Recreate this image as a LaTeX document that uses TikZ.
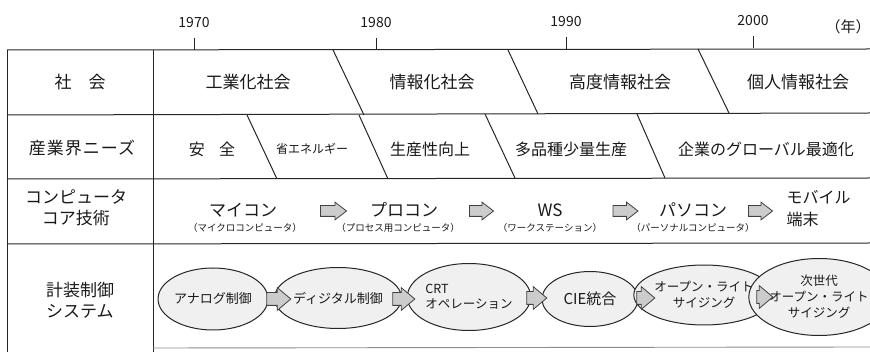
\documentclass[tikz,border=0pt]{standalone}
\usepackage{fontspec}
\setmainfont{Noto Sans CJK JP}
\usetikzlibrary{shapes.geometric,shapes.arrows}
\begin{document}
\begin{tikzpicture}[x=1pt,y=-1pt,
  rule/.style={draw=black!85, line width=1pt},
  yr/.style={font=\fontsize{14}{16}\selectfont, text=black!90},
  lbl/.style={font=\fontsize{17}{21}\selectfont, align=center, text=black!90},
  big/.style={font=\fontsize{17}{21}\selectfont, text=black!90},
  mid/.style={font=\fontsize{16}{19}\selectfont, text=black!90},
  sml/.style={font=\fontsize{12}{14}\selectfont, text=black!90},
  tech/.style={font=\fontsize{17}{19}\selectfont, text=black!90},
  sub/.style={font=\fontsize{9.5}{11}\selectfont, text=black!90},
  ell/.style={ellipse, draw=black!85, fill=gray!12, line width=1pt, inner sep=0pt,
    align=center, text=black!90, font=\fontsize{13}{15}\selectfont},
  blk/.style={single arrow, draw=black!75, fill=gray!40, line width=0.8pt,
    inner xsep=0pt, inner ysep=6pt, single arrow head extend=5pt,
    single arrow tip angle=80, minimum height=#1},
  blks/.style={single arrow, draw=black!75, fill=gray!40, line width=0.8pt,
    inner xsep=0pt, inner ysep=5pt, single arrow head extend=3.5pt,
    single arrow tip angle=75, minimum height=#1}
]
\useasboundingbox (0,0) rectangle (870,352);

% years
\node[yr] (y70) at (194,23) {1970};
\node[yr] (y80) at (376,23) {1980};
\node[yr] (y90) at (566,22) {1990};
\node[yr] (y00) at (753,21) {2000};
\node[yr, font=\fontsize{15}{17}\selectfont] (nen) at (848,27) {（年）};
\draw[rule] (194,38) -- (194,50);
\draw[rule] (376,38) -- (376,50);
\draw[rule] (566,37) -- (566,50);
\draw[rule] (753,36) -- (753,48);

% table lines
\draw[rule] (7,50) -- (870,49);
\draw[rule] (7,115) -- (870,113);
\draw[rule] (7,179) -- (870,178);
\draw[rule] (7,244) -- (870,243);
\draw[rule] (7,50) -- (7,352);
\draw[rule] (153,50) -- (153,352);
\draw[draw=black!45, line width=0.9pt] (153,348) -- (870,347);

% row 1 diagonals
\draw[rule] (333,50) -- (364,115);
\draw[rule] (508,50) -- (538,114);
\draw[rule] (698,49) -- (729,113);
% row 2 diagonals
\draw[rule] (247,115) -- (277,179);
\draw[rule] (359,115) -- (388,179);
\draw[rule] (485,114) -- (515,178);
\draw[rule] (637,114) -- (665,178);

% row labels
\node[lbl] (l1) at (80,82) {社\hspace{1em}会};
\node[lbl, font=\fontsize{17}{21}\selectfont\addfontfeatures{LetterSpace=6}] (l2) at (82,148) {産業界ニーズ};
\node[lbl] (l3) at (76,208) {コンピュータ\\コア技術};
\node[lbl, align=left] (l4) at (80,300) {計装制御\\システム};

% row 1
\node[big] (s1) at (248,82) {工業化社会};
\node[big] (s2) at (432,82) {情報化社会};
\node[big] (s3) at (620,82) {高度情報社会};
\node[big] (s4) at (798,82) {個人情報社会};

% row 2
\node[mid] (n1) at (212,149) {安\hspace{0.9em}全};
\node[sml] (n2) at (312,149) {省エネルギー};
\node[mid] (n3) at (430,149) {生産性向上};
\node[mid] (n4) at (571,149) {多品種少量生産};
\node[mid] (n5) at (766,149) {企業のグローバル最適化};

% row 3
\node[tech] (c1) at (243,210) {マイコン};
\node[sub] (c1s) at (245,228) {（マイクロコンピュータ）};
\node[tech] (c2) at (404,210) {プロコン};
\node[sub] (c2s) at (398,228) {（プロセス用コンピュータ）};
\node[tech] (c3) at (550,210) {WS};
\node[sub] (c3s) at (550,228) {（ワークステーション）};
\node[tech] (c4) at (693,210) {パソコン};
\node[sub] (c4s) at (693,228) {（パーソナルコンピュータ）};
\node[tech, anchor=west, align=left, font=\fontsize{16}{22}\selectfont] (c5) at (783,209) {モバイル\\端末};
\node[blks=26pt] (ca1) at (330,211) {};
\node[blks=24pt] (ca2) at (478,211) {};
\node[blks=25pt] (ca3) at (622,211) {};
\node[blks=24pt] (ca4) at (757,211) {};

% row 4
\node[ell, minimum width=103pt, minimum height=62pt] (e1) at (213,299) {アナログ制御};
\node[ell, minimum width=107pt, minimum height=61pt] (e2) at (338,298) {ディジタル制御};
\node[ell, minimum width=115pt, minimum height=67pt, align=left, font=\fontsize{12.5}{15}\selectfont] (e3) at (469,297) {CRT\\オペレーション};
\node[ell, minimum width=96pt, minimum height=55pt, font=\fontsize{15}{17}\selectfont] (e4) at (590,299) {CIE統合};
\node[ell, minimum width=108pt, minimum height=60pt, font=\fontsize{12.5}{16}\selectfont] (e5) at (704,295) {オープン・ライト\\サイジング};
\node[ell, minimum width=102pt, minimum height=77pt, font=\fontsize{12.5}{16}\selectfont] (e6) at (819,297) {次世代\\オープン・ライト\\サイジング};
\node[blk=24pt] (a1) at (275,299) {};
\node[blk=22pt] (a2) at (400,299) {};
\node[blk=20pt] (a3) at (533,298) {};
\node[blk=18pt] (a4) at (642,298) {};
\node[blk=16pt] (a5) at (761,297) {};
\end{tikzpicture}
\end{document}
